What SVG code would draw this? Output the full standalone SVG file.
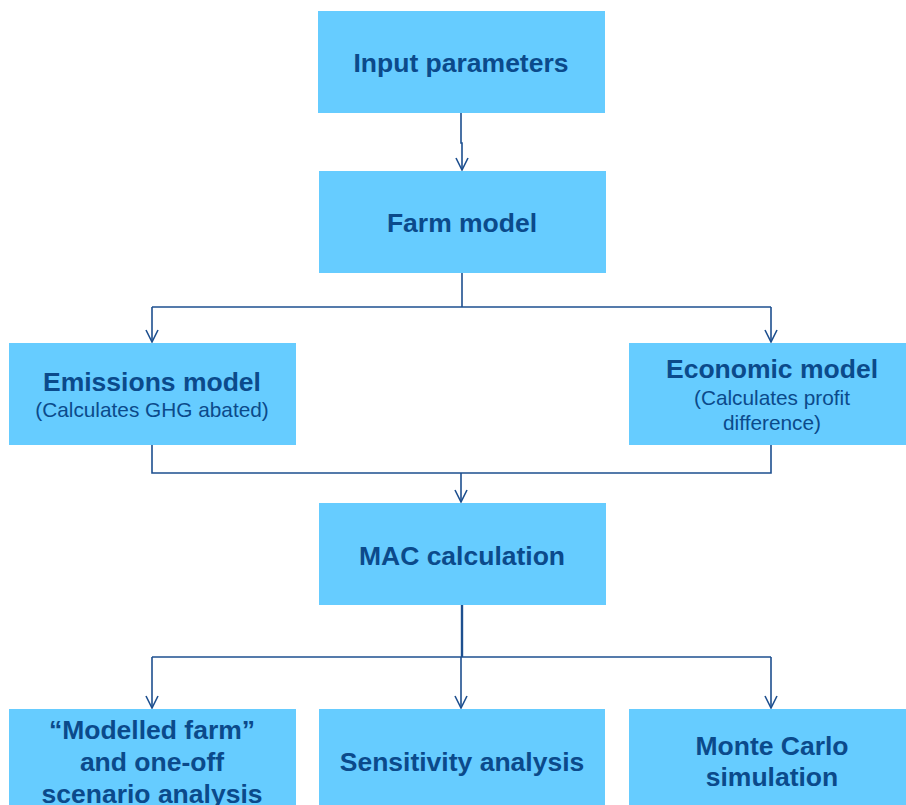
<svg xmlns="http://www.w3.org/2000/svg" width="906" height="805" viewBox="0 0 906 805">
<style>
.box{fill:#66CCFF}
.t{font-family:"Liberation Sans",Arial,sans-serif;font-weight:bold;font-size:26.5px;fill:#0B4A8B;text-anchor:middle}
.s{font-family:"Liberation Sans",Arial,sans-serif;font-size:20.8px;fill:#0B4A8B;text-anchor:middle}
.c{fill:none;stroke:#1D4F8F;stroke-width:1.6}
</style>
<defs>
<marker id="arr" markerUnits="userSpaceOnUse" markerWidth="16" markerHeight="16" viewBox="-14 -8 16 16" refX="0" refY="0" orient="auto">
<path d="M-12,-6 L0,0 L-12,6" fill="none" stroke="#1D4F8F" stroke-width="1.6"/>
</marker>
</defs>
<rect width="906" height="805" fill="#FFFFFF"/>
<g id="connectors">
<path class="c" d="M461,113 V143 H462 V170" marker-end="url(#arr)"/>
<path class="c" d="M462,273 V307"/>
<path class="c" d="M152,307 H771"/>
<path class="c" d="M152,307 V342" marker-end="url(#arr)"/>
<path class="c" d="M771,307 V342" marker-end="url(#arr)"/>
<path class="c" d="M152,445 V473 H771 V445"/>
<path class="c" d="M461,473 V502" marker-end="url(#arr)"/>
<path class="c" d="M462,605 V657" style="stroke-width:2.4"/>
<path class="c" d="M152,657 H771"/>
<path class="c" d="M152,657 V708" marker-end="url(#arr)"/>
<path class="c" d="M461,657 V708" marker-end="url(#arr)"/>
<path class="c" d="M771,657 V708" marker-end="url(#arr)"/>
</g>
<g id="input">
<rect class="box" x="318" y="11" width="287" height="102"/>
<text class="t" x="461" y="72">Input parameters</text>
</g>
<g id="farm">
<rect class="box" x="319" y="171" width="287" height="102"/>
<text class="t" x="462" y="232">Farm model</text>
</g>
<g id="emissions">
<rect class="box" x="9" y="343" width="287" height="102"/>
<text class="t" x="152" y="391">Emissions model</text>
<text class="s" x="152" y="417">(Calculates GHG abated)</text>
</g>
<g id="economic">
<rect class="box" x="629" y="343" width="277" height="102"/>
<text class="t" x="772" y="378">Economic model</text>
<text class="s" x="772" y="405">(Calculates profit</text>
<text class="s" x="772" y="430">difference)</text>
</g>
<g id="mac">
<rect class="box" x="319" y="503" width="287" height="102"/>
<text class="t" x="462" y="565">MAC calculation</text>
</g>
<g id="modelled">
<rect class="box" x="9" y="709" width="287" height="96"/>
<text class="t" x="152" y="739">“Modelled farm”</text>
<text class="t" x="152" y="771">and one-off</text>
<text class="t" x="152" y="803">scenario analysis</text>
</g>
<g id="sensitivity">
<rect class="box" x="319" y="709" width="286" height="96"/>
<text class="t" x="462" y="771">Sensitivity analysis</text>
</g>
<g id="montecarlo">
<rect class="box" x="629" y="709" width="277" height="96"/>
<text class="t" x="772" y="755">Monte Carlo</text>
<text class="t" x="772" y="786">simulation</text>
</g>
</svg>
